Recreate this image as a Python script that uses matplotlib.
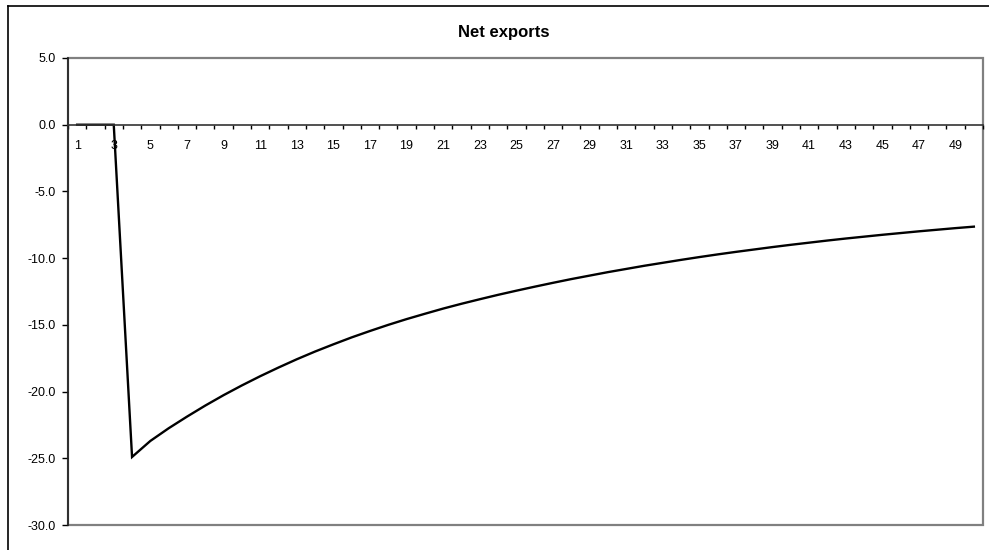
import matplotlib.pyplot as plt
from matplotlib.lines import Line2D
from matplotlib.patches import Rectangle

plt.rcParams['font.family'] = ['Liberation Sans', 'DejaVu Sans']

# periods 1..50 and net exports response
periods = list(range(1, 51))
net_exports = [
    0.0, 0.0, 0.0,
    -24.9, -23.7, -22.75, -21.88, -21.05, -20.27, -19.54, -18.85, -18.2, -17.58,
    -17.0, -16.46, -15.94, -15.46, -15.0, -14.57, -14.17, -13.78, -13.42, -13.08,
    -12.75, -12.44, -12.14, -11.85, -11.57, -11.31, -11.05, -10.81, -10.57, -10.35,
    -10.13, -9.92, -9.72, -9.53, -9.35, -9.17, -9.0, -8.84, -8.68, -8.53,
    -8.39, -8.25, -8.12, -7.99, -7.87, -7.75, -7.64,
]
y_ticks = [5.0, 0.0, -5.0, -10.0, -15.0, -20.0, -25.0, -30.0]
x_labels = [str(p) for p in periods[::2]]

W, H = 989, 550
fig = plt.figure(figsize=(W / 100, H / 100), dpi=100)

# outer chart frame
fig.add_artist(Line2D([8 / W, 8 / W], [0, 1 - 6 / H], color='black', lw=1.2))
fig.add_artist(Line2D([8 / W, 1], [1 - 6 / H, 1 - 6 / H], color='black', lw=1.2))

ax = fig.add_axes([68 / W, 1 - 525 / H, 915 / W, 467 / H])
ax.plot(periods, net_exports, color='black', lw=1.7, solid_joinstyle='miter')

ax.set_xlim(0.5, 50.5)
ax.set_ylim(-30, 5)

# plot area border in grey
ax.add_patch(Rectangle((0, 0), 1, 1, transform=ax.transAxes, fill=False,
                       edgecolor='#808080', lw=1.6, clip_on=False, zorder=0))
for side in ['top', 'right']:
    ax.spines[side].set_visible(False)
ax.spines['left'].set_color('#222222')
ax.spines['left'].set_linewidth(1.2)
ax.spines['bottom'].set_position(('data', 0))
ax.spines['bottom'].set_color('#333333')
ax.spines['bottom'].set_linewidth(1.2)

ax.set_yticks(y_ticks)
ax.set_yticklabels(['%.1f' % v for v in y_ticks])
ax.tick_params(axis='y', direction='out', length=4, width=1, pad=5,
               labelsize=9, colors='black')

# tick marks between categories, labels on every other category
ax.set_xticks([p - 0.5 for p in periods] + [50.5])
ax.set_xticklabels([])
ax.tick_params(axis='x', which='major', direction='out', length=3, width=1)
ax.set_xticks(periods[::2], minor=True)
ax.set_xticklabels(x_labels, minor=True)
ax.tick_params(axis='x', which='minor', length=0, pad=11, labelsize=9)

fig.text(504 / W, 1 - 33 / H, 'Net exports', ha='center', va='center',
         fontsize=12, fontweight='bold')

fig.savefig('out.png', dpi=100)
